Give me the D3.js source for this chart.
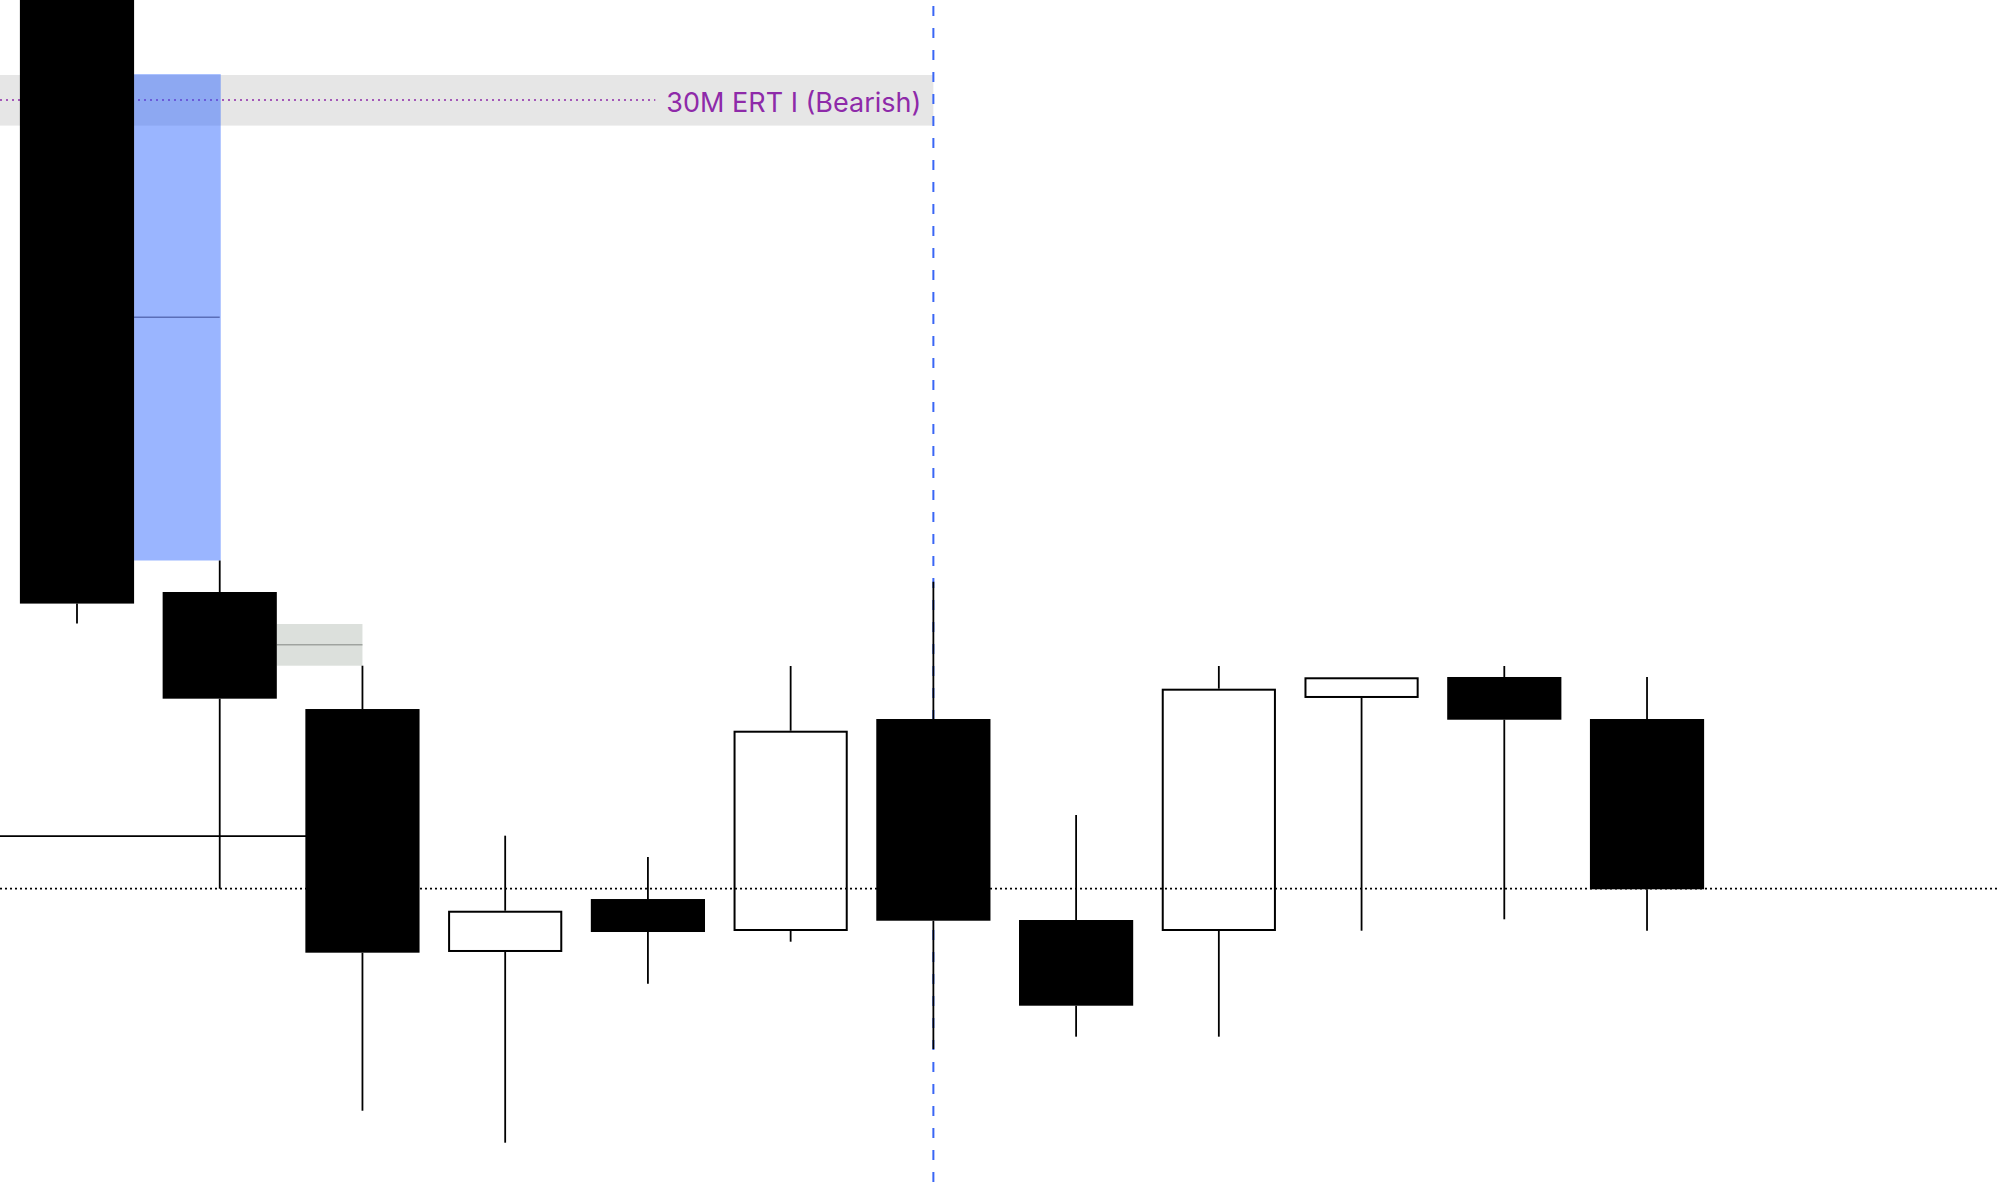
<!DOCTYPE html>
<html>
<head>
<meta charset="utf-8">
<script src="https://cdn.jsdelivr.net/npm/d3@7"></script>
<style>
  html, body { margin: 0; padding: 0; background: #ffffff; overflow: hidden; }
  svg { display: block; }
</style>
</head>
<body>
<svg id="chart" width="1998" height="1182"></svg>
<script>
// ---- data ----
const categories = ["1","2","3","4","5","6","7","8","9","10","11","12","13","14"]; // last two slots empty (future)
const opens  = [21215.00, 21099.83, 21080.03, 21038.92, 21047.88, 21042.47, 21078.34, 21044.33, 21042.47, 21081.90, 21085.45, 21078.34];
const highs  = [21225.00, 21105.16, 21087.36, 21058.60, 21054.99, 21087.31, 21101.57, 21062.10, 21087.31, 21085.40, 21087.31, 21085.45];
const lows   = [21094.50, 21049.63, 21012.06, 21006.65, 21033.55, 21040.66, 21022.50, 21024.59, 21024.59, 21042.52, 21044.45, 21042.52];
const closes = [21097.87, 21081.78, 21038.80, 21045.90, 21042.30, 21076.36, 21044.21, 21029.83, 21083.47, 21085.40, 21078.22, 21049.53];

// annotation values
const ertLabel = "30M ERT I (Bearish)";
const ertZone = [21187.31, 21178.75];     // top, bottom
const ertLevel = 21183.08;
const ertEndBar = "7";
const fvgZone = [21187.45, 21105.16];     // blue zone top/bottom
const fvgStartBar = "1", fvgEndBar = "2";
const smallZone = [21094.42, 21087.36];
const smallStartBar = "2", smallEndBar = "3";
const solidLevel = 21058.54, solidEndBar = "3";
const dottedLevel = 21049.63;
const markerBar = "7";

// ---- scales ----
const W = 1998, H = 1182;
const x = d3.scaleBand().domain(categories).range([5.63, 2003.85]).paddingInner(0.2).paddingOuter(0.1);
const y = d3.scaleLinear().domain([21000, 21200]).range([H, 0]);
const cx = c => x(c) + x.bandwidth() / 2;

const candles = opens.map((o, i) => ({cat: categories[i], o, h: highs[i], l: lows[i], c: closes[i]}));

const svg = d3.select("#chart");

// ERT grey band
svg.append("rect")
  .attr("x", 0).attr("y", y(ertZone[0]))
  .attr("width", cx(ertEndBar)).attr("height", y(ertZone[1]) - y(ertZone[0]))
  .attr("fill", "#e6e6e6");

// small grey-green zone
svg.append("rect")
  .attr("x", x(smallStartBar) + x.bandwidth()).attr("y", y(smallZone[0]))
  .attr("width", cx(smallEndBar) - (x(smallStartBar) + x.bandwidth()))
  .attr("height", y(smallZone[1]) - y(smallZone[0]))
  .attr("fill", "#dce0dc");
svg.append("line")
  .attr("x1", x(smallStartBar) + x.bandwidth()).attr("x2", cx(smallEndBar))
  .attr("y1", y((smallZone[0] + smallZone[1]) / 2)).attr("y2", y((smallZone[0] + smallZone[1]) / 2))
  .attr("stroke", "#9fa39f").attr("stroke-width", 1.5);

// label text (measure first)
const label = svg.append("text")
  .attr("x", cx(ertEndBar) - 12).attr("y", y(ertLevel) + 12)
  .attr("text-anchor", "end")
  .attr("font-family", "Inter, 'Noto Sans', sans-serif")
  .attr("font-size", 27)
  .attr("fill", "#8e2aa9")
  .text(ertLabel);
const textStart = cx(ertEndBar) - 12 - label.node().getComputedTextLength();

// purple dotted ERT line
svg.append("line")
  .attr("x1", 0).attr("x2", textStart - 11)
  .attr("y1", y(ertLevel)).attr("y2", y(ertLevel))
  .attr("stroke", "#8e2aa9").attr("stroke-width", 1.7)
  .attr("stroke-dasharray", "2,4");

// blue FVG zone
const fx0 = x(fvgStartBar) + x.bandwidth();
svg.append("rect")
  .attr("x", fx0).attr("y", y(fvgZone[0]))
  .attr("width", cx(fvgEndBar) - fx0 + 1).attr("height", y(fvgZone[1]) - y(fvgZone[0]))
  .attr("fill", "#2962ff").attr("fill-opacity", 0.47);
svg.append("line")
  .attr("x1", fx0).attr("x2", cx(fvgEndBar))
  .attr("y1", y((fvgZone[0] + fvgZone[1]) / 2)).attr("y2", y((fvgZone[0] + fvgZone[1]) / 2))
  .attr("stroke", "#5a6eb8").attr("stroke-width", 1.5);

// solid level line
svg.append("line")
  .attr("x1", 0).attr("x2", cx(solidEndBar))
  .attr("y1", y(solidLevel)).attr("y2", y(solidLevel))
  .attr("stroke", "#000").attr("stroke-width", 1.8);

// dotted level line
svg.append("line")
  .attr("x1", 0).attr("x2", W)
  .attr("y1", y(dottedLevel)).attr("y2", y(dottedLevel))
  .attr("stroke", "#000").attr("stroke-width", 1.8)
  .attr("stroke-dasharray", "2,3");

// blue vertical dashed marker
svg.append("line")
  .attr("x1", cx(markerBar)).attr("x2", cx(markerBar))
  .attr("y1", 6).attr("y2", H)
  .attr("stroke", "#3a66f5").attr("stroke-width", 2)
  .attr("stroke-dasharray", "10,12");

// candles
const g = svg.append("g");
const sw = 1.8;
candles.forEach(d => {
  const top = Math.max(d.o, d.c), bot = Math.min(d.o, d.c);
  const bull = d.c > d.o;
  const xc = cx(d.cat);
  if (d.h > top) {
    g.append("line").attr("x1", xc).attr("x2", xc)
      .attr("y1", y(d.h)).attr("y2", y(top))
      .attr("stroke", "#000").attr("stroke-width", sw);
  }
  if (d.l < bot) {
    g.append("line").attr("x1", xc).attr("x2", xc)
      .attr("y1", y(bot)).attr("y2", y(d.l))
      .attr("stroke", "#000").attr("stroke-width", sw);
  }
  if (bull) {
    g.append("rect")
      .attr("x", x(d.cat) + 1).attr("y", y(top) + 1)
      .attr("width", x.bandwidth() - 2).attr("height", y(bot) - y(top) - 2)
      .attr("fill", "none").attr("stroke", "#000").attr("stroke-width", 2);
  } else {
    g.append("rect")
      .attr("x", x(d.cat)).attr("y", y(top))
      .attr("width", x.bandwidth()).attr("height", y(bot) - y(top))
      .attr("fill", "#000");
  }
});

label.raise();
</script>
</body>
</html>
